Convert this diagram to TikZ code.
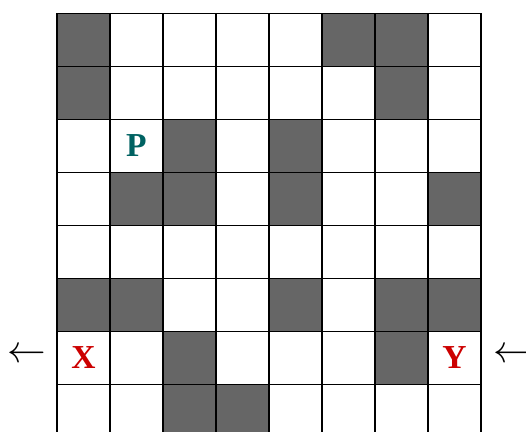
\documentclass[tikz,border=0pt]{standalone}
\usepackage{fontspec}
\setmainfont{Liberation Serif}
\usepackage{tikz}
\usetikzlibrary{positioning}
\definecolor{cellgray}{HTML}{666666}
\definecolor{markteal}{HTML}{006262}
\definecolor{markred}{HTML}{CC0000}

\begin{document}
\begin{tikzpicture}[
    wall/.style={fill=cellgray,draw=none},
    gridline/.style={draw=black,line width=0.6pt},
    letter/.style={font=\fontsize{18}{20}\selectfont\bfseries,inner sep=0pt},
    side/.style={font=\fontsize{20}{22}\selectfont,inner sep=0pt},
  ]
    \useasboundingbox (-1.075,0.25) rectangle (8.849,-7.9);

    % blocked cells (column, row from the top)
    \foreach \c/\r in {0/0,5/0,6/0,0/1,6/1,2/2,4/2,1/3,2/3,4/3,7/3,
                       0/5,1/5,4/5,6/5,7/5,2/6,6/6,2/7,3/7}
      \fill[wall] (\c,-\r) rectangle ++(1,-1);
    \draw[gridline] (0,-8) grid (8,0);

    \node[letter,text=markteal] (p) at (1.5,-2.5) {P};
    \node[letter,text=markred]  (x) at (0.5,-6.5) {X};
    \node[letter,text=markred]  (y) at (7.5,-6.5) {Y};

    \node[side] (left)  at (-0.566,-6.45) {$\leftarrow$};
    \node[side] (right) at (8.6,-6.45)    {$\leftarrow$};
  \end{tikzpicture}
\end{document}
